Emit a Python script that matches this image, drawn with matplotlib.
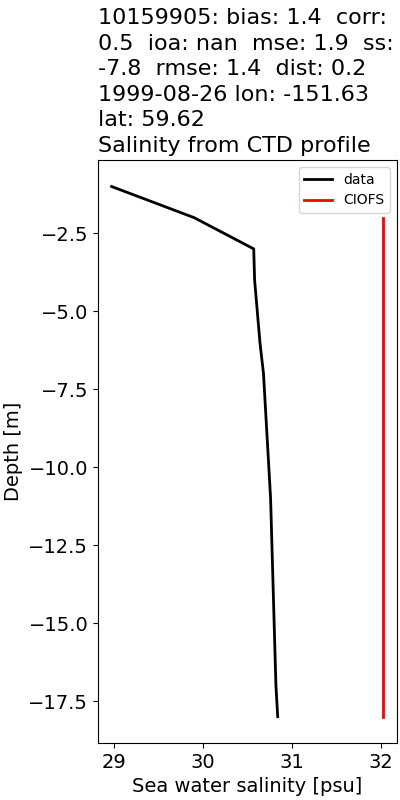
import matplotlib
matplotlib.use("Agg")
import matplotlib.pyplot as plt
import numpy as np

# CTD profile (observed) and model values
depth_data = [-1, -2, -3, -4, -5, -6, -7, -8, -9, -10, -11, -12, -13, -14, -15, -16, -17, -18]
sal_data = [28.97, 29.90, 30.57, 30.58, 30.61, 30.64, 30.68, 30.70, 30.72, 30.74,
            30.76, 30.77, 30.78, 30.79, 30.80, 30.81, 30.82, 30.84]
depth_model = [-2, -18]
sal_model = [32.03, 32.03]

title_lines = [
    "10159905: bias: 1.4  corr:",
    "0.5  ioa: nan  mse: 1.9  ss:",
    "-7.8  rmse: 1.4  dist: 0.2",
    "1999-08-26 lon: -151.63",
    "lat: 59.62",
    "Salinity from CTD profile",
]

fig, ax = plt.subplots(figsize=(4, 8), dpi=100)
fig.subplots_adjust(left=0.245, right=0.9925, top=0.8, bottom=0.071)

ax.plot(sal_data, depth_data, color='k', lw=2, label='data')
ax.plot(sal_model, depth_model, color='r', lw=2, label='CIOFS')

ax.set_title("\n".join(title_lines), loc='left', fontsize=16, linespacing=1.34)
ax.set_xlabel('Sea water salinity [psu]', fontsize=14)
ax.set_ylabel('Depth [m]', fontsize=14)
ax.tick_params(labelsize=14)
ax.legend(loc='upper right', fontsize=10)

fig.savefig('out.png')
